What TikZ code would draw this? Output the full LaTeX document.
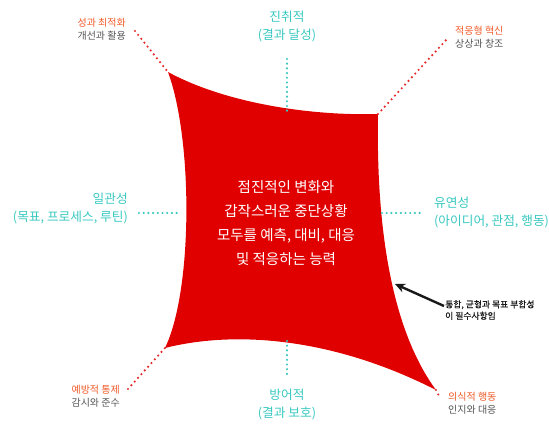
\documentclass[tikz,border=0pt]{standalone}
\usepackage{fontspec}
\setmainfont{Noto Sans CJK KR}
\usetikzlibrary{arrows.meta}
\definecolor{shapered}{RGB}{224,0,0}
\definecolor{teal}{RGB}{56,200,192}
\definecolor{orangelbl}{RGB}{240,90,40}
\definecolor{graylbl}{RGB}{85,85,85}
\definecolor{dotred}{RGB}{230,40,40}
\tikzset{
  axislbl/.style={text=teal,font=\fontsize{12.7}{18}\selectfont,inner sep=0pt},
  cornerlbl/.style={font=\fontsize{10}{13}\selectfont,inner sep=0pt},
  reddots/.style={draw=dotred,line width=2.4pt,line cap=round,dash pattern=on 0pt off 5pt},
  tealdots/.style={draw=teal,line width=2.4pt,line cap=round,dash pattern=on 0pt off 4.7pt},
}
\begin{document}
\begin{tikzpicture}[x=1pt,y=-1pt]
\useasboundingbox (0,0) rectangle (549,427);
% corners
\coordinate (tl) at (168,72);
\coordinate (tr) at (378,114);
\coordinate (br) at (436,390);
\coordinate (bl) at (165,348);
% shape
\fill[shapered] (tl) .. controls (225,103) and (310,116) .. (tr)
  .. controls (376,230) and (392,330) .. (br)
  .. controls (330,336) and (232,331) .. (bl)
  .. controls (193,290) and (193,140) .. (tl) -- cycle;
% edge mid points
\coordinate (topm) at (287,111);
\coordinate (botm) at (287,341);
\coordinate (leftm) at (181,213);
\coordinate (rightm) at (382,213);
% dotted ends
\coordinate (topend) at (287,59);
\coordinate (botend) at (287,377);
\coordinate (leftend) at (139,213);
\coordinate (rightend) at (424,213);
\coordinate (tlend) at (135,31);
\coordinate (trend) at (448,38);
\coordinate (blend) at (128,389);
\coordinate (brend) at (440,398);
\draw[tealdots] (topend) -- (topm);
\draw[tealdots] (botm) -- (botend);
\draw[tealdots] (leftend) -- (leftm);
\draw[tealdots] (rightm) -- (rightend);
\draw[reddots] (tlend) -- (tl);
\draw[reddots] (tr) -- (trend);
\draw[reddots] (blend) -- (bl);
\draw[reddots] (br) -- (brend);
% center text
\node[text=white,font=\fontsize{14.5}{24}\selectfont,align=center,inner sep=0pt] (center) at (286,223.5)
  {점진적인 변화와\\갑작스러운 중단상황\\모두를 예측, 대비, 대응\\및 적응하는 능력};
% axis labels
\node[axislbl,align=center] (top) at (287,26) {진취적\\(결과 달성)};
\node[axislbl,align=center] (bottom) at (287,404) {방어적\\(결과 보호)};
\node[axislbl,align=right,anchor=east] (left) at (128,208) {일관성\\(목표, 프로세스, 루틴)};
\node[axislbl,align=left,anchor=west] (right) at (434,212) {유연성\\(아이디어, 관점, 행동)};
% corner labels
\node[cornerlbl,align=right,anchor=east] (tllbl) at (126,29.5) {\textcolor{orangelbl}{성과 최적화}\\\textcolor{graylbl}{개선과 활용}};
\node[cornerlbl,align=left,anchor=west] (trlbl) at (455,37.5) {\textcolor{orangelbl}{적응형 혁신}\\\textcolor{graylbl}{상상과 창조}};
\node[cornerlbl,align=right,anchor=east] (bllbl) at (120,396.5) {\textcolor{orangelbl}{예방적 통제}\\\textcolor{graylbl}{감시와 준수}};
\node[cornerlbl,align=left,anchor=west] (brlbl) at (448,403.5) {\textcolor{orangelbl}{의식적 행동}\\\textcolor{graylbl}{인지와 대응}};
% annotation
\node[font=\fontsize{8.8}{11.5}\selectfont\addfontfeatures{FakeBold=0.6},text=black!90,align=left,anchor=west,inner sep=0pt] (note) at (445,310) {통합, 균형과 목표 부합성\\이 필수사항임};
\coordinate (arrowtip) at (395,284);
\draw[line width=2.4pt,-{Stealth[length=10pt,width=9pt]},black!90] (note.west) ++(-1,-4) coordinate (arrowstart) (arrowstart) -- (arrowtip);
\end{tikzpicture}
\end{document}
